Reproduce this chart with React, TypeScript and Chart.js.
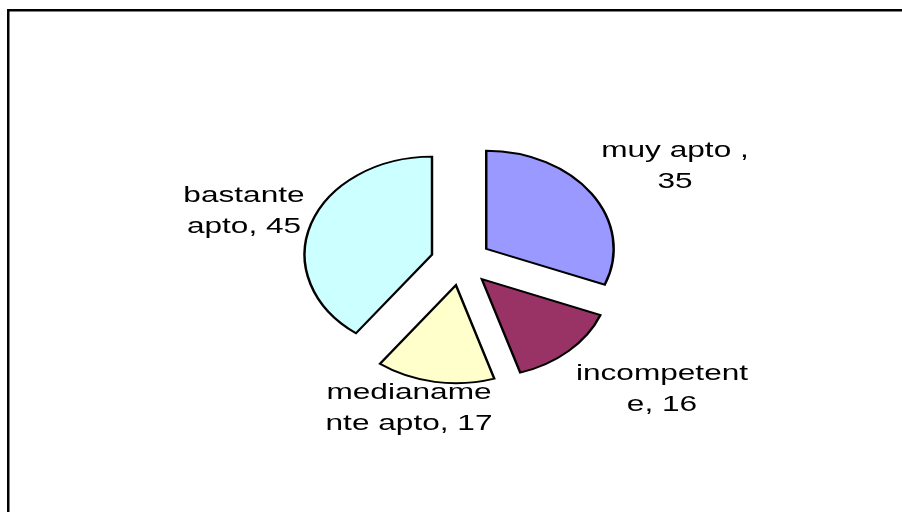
import React, { useEffect, useRef } from "react";
import { Chart, registerables } from "chart.js";

Chart.register(...registerables);

// ---- data ----
const categories = ["muy apto ", "incompetente", "medianamente apto", "bastante apto"];
const values = [35, 16, 17, 45];
const sliceColors = ["#9999FF", "#993366", "#FFFFCC", "#CCFFFF"];
// character index where each data label wraps onto its second line
const labelBreaks = [10, 11, 9, 8];

// ---- layout / style constants ----
const W = 902;
const H = 512;
const STRETCH_X = 1.3; // pie drawn as an ellipse
const TEXT_STRETCH_X = 1.47;
const EXPLODE = 23.5;
const RADIUS = 98;
const FONT = "21.5px 'Liberation Sans', Arial, sans-serif";
const LINE_H = 30.5;
// label anchor (center x, first baseline y)
const labelAnchors = [
  [675, 157],
  [662, 380],
  [409, 399],
  [244, 202],
];

function wrapLabel(i: number): string[] {
  const full = categories[i] + ", " + values[i];
  const b = labelBreaks[i];
  return [full.slice(0, b).trim(), full.slice(b).trim()];
}

const explodePlugin = {
  id: "explode",
  afterDatasetUpdate(chart: any, args: any) {
    const meta = chart.getDatasetMeta(args.index);
    meta.data.forEach((arc: any) => {
      const mid = (arc.startAngle + arc.endAngle) / 2;
      arc.x += Math.cos(mid) * EXPLODE;
      arc.y += Math.sin(mid) * EXPLODE;
    });
  },
};

const ellipsePlugin = {
  id: "ellipse",
  beforeDatasetsDraw(chart: any) {
    const ctx = chart.ctx;
    const ca = chart.chartArea;
    const cx = (ca.left + ca.right) / 2;
    ctx.save();
    ctx.translate(cx, 0);
    ctx.scale(STRETCH_X, 1);
    ctx.translate(-cx, 0);
  },
  afterDatasetsDraw(chart: any) {
    chart.ctx.restore();
  },
};

const framePlugin = {
  id: "frame",
  beforeDraw(chart: any) {
    const ctx = chart.ctx;
    ctx.save();
    ctx.fillStyle = "#ffffff";
    ctx.fillRect(0, 0, W, H);
    ctx.fillStyle = "#000000";
    ctx.fillRect(7, 9, W - 7, 2.5);
    ctx.fillRect(7, 9, 2.5, H - 9);
    ctx.restore();
  },
};

const labelPlugin = {
  id: "sliceLabels",
  afterDraw(chart: any) {
    const ctx = chart.ctx;
    ctx.save();
    ctx.font = FONT;
    ctx.fillStyle = "#000000";
    ctx.textAlign = "center";
    ctx.textBaseline = "alphabetic";
    categories.forEach((_, i) => {
      const lines = wrapLabel(i);
      const [ax, ay] = labelAnchors[i];
      lines.forEach((ln, j) => {
        ctx.save();
        ctx.translate(ax, ay + j * LINE_H);
        ctx.scale(TEXT_STRETCH_X, 1);
        ctx.fillText(ln, 0, 0);
        ctx.restore();
      });
    });
    ctx.restore();
  },
};

export default function App() {
  const ref = useRef<HTMLCanvasElement | null>(null);

  useEffect(() => {
    if (!ref.current) return;
    const chart = new Chart(ref.current, {
      type: "pie",
      data: {
        labels: categories,
        datasets: [
          {
            data: values,
            backgroundColor: sliceColors,
            borderColor: "#000000",
            borderWidth: 1.9,
            borderJoinStyle: "miter",
            radius: RADIUS,
            clip: false,
          } as any,
        ],
      },
      options: {
        responsive: false,
        animation: false,
        events: [],
        layout: { padding: { left: 20, top: 12, right: 0, bottom: 0 } },
        plugins: {
          legend: { display: false },
          tooltip: { enabled: false },
          title: { display: false },
        },
      },
      plugins: [framePlugin, explodePlugin, ellipsePlugin, labelPlugin],
    });
    return () => chart.destroy();
  }, []);

  return (
    <div style={{ position: "absolute", left: 0, top: 0, width: W, height: H }}>
      <canvas ref={ref} width={W} height={H} style={{ display: "block" }} />
    </div>
  );
}
